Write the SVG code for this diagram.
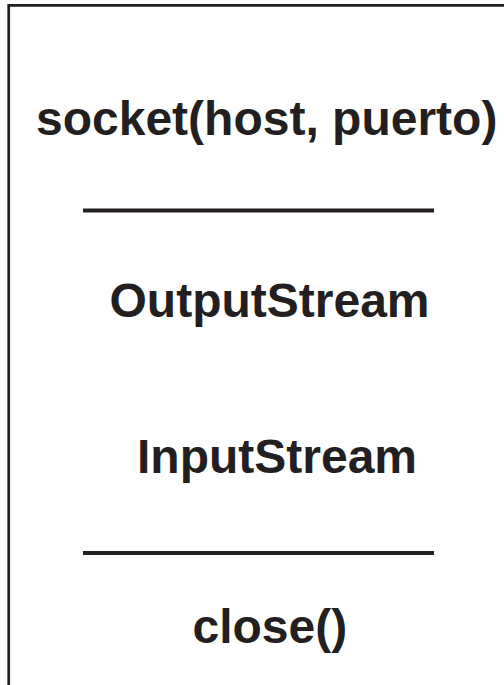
<svg xmlns="http://www.w3.org/2000/svg" width="504" height="685" viewBox="0 0 504 685">
  <style>
    .frame { fill: none; stroke: #231f20; stroke-width: 2.7; }
    .rule { stroke: #231f20; stroke-width: 4; }
    .label { font-family: "Liberation Sans", Arial, sans-serif; font-weight: bold; font-size: 48px; fill: #231f20; }
  </style>
  <rect width="504" height="685" fill="#ffffff"/>
  <!-- open frame: top edge and left edge only -->
  <path class="frame" d="M8.7 685 V5.3 H504"/>
  <g id="socket">
    <text class="label" x="36" y="135">socket(host, puerto)</text>
  </g>
  <g id="connectors">
    <line class="rule" x1="83" y1="210.5" x2="434" y2="210.5"/>
    <line class="rule" x1="83" y1="553" x2="434" y2="553"/>
  </g>
  <g id="output-stream">
    <text class="label" x="109.5" y="317">OutputStream</text>
  </g>
  <g id="input-stream">
    <text class="label" x="137" y="473">InputStream</text>
  </g>
  <g id="close">
    <text class="label" x="192.5" y="643">close()</text>
  </g>
</svg>
